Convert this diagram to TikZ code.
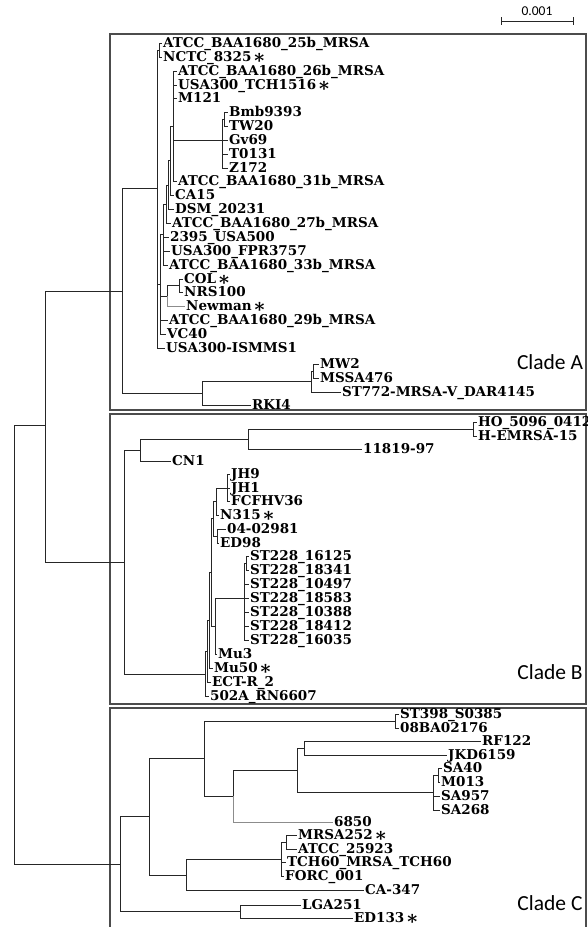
\documentclass[tikz,border=0pt]{standalone}
\usepackage{fontspec}
\setmainfont{DejaVu Serif}
\newfontfamily\cladefont{Carlito}
\newcommand\mk{\hspace{3pt}\raisebox{-5.5pt}{\fontsize{19}{19}\selectfont *}}

\begin{document}
\begin{tikzpicture}
        [x=1pt, y=-1pt,
         leaf/.style={anchor=west, inner xsep=1pt, inner ysep=0pt, text height=9.8pt, text depth=0pt,
                      font={\bfseries\fontsize{13.5}{14}\selectfont}},
         branch/.style={draw=black!85, line width=0.7pt},
         faint/.style={draw=black!45, line width=0.7pt},
         frame/.style={draw=black!70, line width=1.3pt},
         clade/.style={font={\cladefont\fontsize{21.5}{24}\selectfont}}]
        \useasboundingbox (0,0) rectangle (587,927);
        \draw[frame] (110,34) rectangle (586,410);
        \draw[frame] (110,414) rectangle (586,704);
        \draw[frame] (110,940) -- (110,708) -- (586,708) -- (586,940);
        \node[font={\cladefont\fontsize{13.5}{14}\selectfont}, inner sep=0pt] (scale) at (537,11) {0.001};
        \draw[branch] (501,17) -- (501,25) (501,21) -- (573,21) (573,17) -- (573,25);
        \node[clade] (cladeA) at (550,362) {Clade A};
        \node[clade] (cladeB) at (550,672) {Clade B};
        \node[clade] (cladeC) at (550,903) {Clade C};

        \coordinate (root) at (14,644);
        \coordinate (nAB) at (45,425);
        \coordinate (nC) at (120,864);
        \coordinate (nA) at (122,291);
        \coordinate (nB) at (124,562);
        \draw[branch] (root) |- (nAB) (root) |- (nC) (nAB) |- (nA) (nAB) |- (nB);

        \coordinate (aMain) at (157,188);
        \coordinate (aLow) at (202,393);
        \draw[branch] (nA) |- (aMain) (nA) |- (aLow);
        \coordinate (aTop) at (159,50);
        \coordinate (a5) at (160,284);
        \node[leaf] (ismms) at (165,348) {USA300-ISMMS1};
        \draw[branch] (aMain) |- (aTop) (aMain) |- (a5) (aMain) |- (ismms);
        \node[leaf] (b25) at (162,43) {ATCC\_BAA1680\_25b\_MRSA};
        \node[leaf] (nctc) at (162,57) {NCTC\_8325\mk};
        \draw[branch] (aTop) |- (b25) (aTop) |- (nctc);
        \coordinate (a4) at (163,234);
        \coordinate (gCol) at (167,296);
        \node[leaf] (b29) at (168,320) {ATCC\_BAA1680\_29b\_MRSA};
        \node[leaf] (vc40) at (166,334) {VC40};
        \draw[branch] (a5) |- (a4) (a5) |- (gCol) (a5) |- (b29) (a5) |- (vc40);
        \coordinate (pCol) at (179,285.5);
        \node[leaf] (newman) at (185,306) {Newman\mk};
        \draw[branch] (gCol) |- (pCol);
        \draw[faint] (gCol) |- (newman);
        \node[leaf] (col) at (183,279) {COL\mk};
        \node[leaf] (nrs) at (183,292) {NRS100};
        \draw[branch] (pCol) |- (col) (pCol) |- (nrs);
        \coordinate (a3) at (166,204);
        \node[leaf] (usa500) at (169,237) {2395\_USA500};
        \node[leaf] (fpr) at (170,251) {USA300\_FPR3757};
        \node[leaf] (b33) at (168,265) {ATCC\_BAA1680\_33b\_MRSA};
        \draw[branch] (a4) |- (a3) (a4) |- (usa500) (a4) |- (fpr) (a4) |- (b33);
        \coordinate (a2) at (168,185);
        \node[leaf] (b27) at (171,223) {ATCC\_BAA1680\_27b\_MRSA};
        \draw[branch] (a3) |- (a2) (a3) |- (b27);
        \coordinate (a1) at (170,160);
        \node[leaf] (dsm) at (174,209) {DSM\_20231};
        \draw[branch] (a2) |- (a1) (a2) |- (dsm);
        \coordinate (gUp) at (173,126);
        \node[leaf] (ca15) at (174,195) {CA15};
        \draw[branch] (a1) |- (gUp) (a1) |- (ca15);
        \node[leaf] (b26) at (177,71) {ATCC\_BAA1680\_26b\_MRSA};
        \node[leaf] (tch) at (177,85) {USA300\_TCH1516\mk};
        \node[leaf] (m121) at (177,98) {M121};
        \coordinate (gBmb) at (222,140);
        \node[leaf] (b31) at (177,181) {ATCC\_BAA1680\_31b\_MRSA};
        \draw[branch] (gUp) |- (b26) (gUp) |- (tch) (gUp) |- (m121) (gUp) |- (gBmb) (gUp) |- (b31);
        \coordinate (pBmb) at (224.5,119);
        \node[leaf] (gv69) at (228,140) {Gv69};
        \node[leaf] (t0131) at (228,154) {T0131};
        \node[leaf] (z172) at (228,168) {Z172};
        \draw[branch] (gBmb) |- (pBmb) (gBmb) |- (gv69) (gBmb) |- (t0131) (gBmb) |- (z172);
        \node[leaf] (bmb) at (228,112) {Bmb9393};
        \node[leaf] (tw20) at (228,126) {TW20};
        \draw[branch] (pBmb) |- (bmb) (pBmb) |- (tw20);

        \coordinate (gMW) at (311,381);
        \node[leaf] (rki4) at (251,405) {RKI4};
        \draw[branch] (aLow) |- (gMW) (aLow) |- (rki4);
        \coordinate (pMW) at (313,371);
        \node[leaf] (st772) at (341,392) {ST772-MRSA-V\_DAR4145};
        \draw[branch] (gMW) |- (pMW) (gMW) |- (st772);
        \node[leaf] (mw2) at (319,364) {MW2};
        \node[leaf] (mssa) at (319,378) {MSSA476};
        \draw[branch] (pMW) |- (mw2) (pMW) |- (mssa);

        \coordinate (gB1) at (140,450);
        \coordinate (gB2) at (205,674);
        \draw[branch] (nB) |- (gB1) (nB) |- (gB2);
        \coordinate (gHO) at (248,439);
        \node[leaf] (cn1) at (171,461) {CN1};
        \draw[branch] (gB1) |- (gHO) (gB1) |- (cn1);
        \coordinate (pHO) at (473,429);
        \node[leaf] (b11819) at (362,449) {11819-97};
        \draw[branch] (gHO) |- (pHO) (gHO) |- (b11819);
        \node[leaf] (ho) at (477,422) {HO\_5096\_0412};
        \node[leaf] (hemrsa) at (477,436) {H-EMRSA-15};
        \draw[branch] (pHO) |- (ho) (pHO) |- (hemrsa);

        \coordinate (bM3) at (207,651);
        \node[leaf] (rn6607) at (209,696) {502A\_RN6607};
        \draw[branch] (gB2) |- (bM3) (gB2) |- (rn6607);
        \coordinate (bM2) at (209,620);
        \node[leaf] (ectr) at (211,682) {ECT-R\_2};
        \draw[branch] (bM3) |- (bM2) (bM3) |- (ectr);
        \coordinate (bM) at (211,572);
        \node[leaf] (mu50) at (213,668) {Mu50\mk};
        \draw[branch] (bM2) |- (bM) (bM2) |- (mu50);
        \coordinate (bU) at (213,518);
        \coordinate (bS) at (215,626);
        \draw[branch] (bM) |- (bU) (bM) |- (bS);
        \coordinate (bN) at (216,501);
        \coordinate (pQ) at (217,536);
        \draw[branch] (bU) |- (bN) (bU) |- (pQ);
        \coordinate (tJH) at (227,488);
        \node[leaf] (n315) at (219,515) {N315\mk};
        \draw[branch] (bN) |- (tJH) (bN) |- (n315);
        \node[leaf] (jh9) at (230,474) {JH9};
        \node[leaf] (jh1) at (230,488) {JH1};
        \node[leaf] (fcf) at (230,501) {FCFHV36};
        \draw[branch] (tJH) |- (jh9) (tJH) |- (jh1) (tJH) |- (fcf);
        \node[leaf] (b0402) at (226,529) {04-02981};
        \node[leaf] (ed98) at (219,543) {ED98};
        \draw[branch] (pQ) |- (b0402) (pQ) |- (ed98);
        \coordinate (gST) at (244,598);
        \node[leaf] (mu3) at (217,654) {Mu3};
        \draw[branch] (bS) |- (gST) (bS) |- (mu3);
        \coordinate (pST) at (246,563);
        \node[leaf] (st10497) at (249,584) {ST228\_10497};
        \node[leaf] (st18583) at (249,598) {ST228\_18583};
        \node[leaf] (st10388) at (249,612) {ST228\_10388};
        \node[leaf] (st18412) at (249,626) {ST228\_18412};
        \node[leaf] (st16035) at (249,640) {ST228\_16035};
        \draw[branch] (gST) |- (pST) (gST) |- (st10497) (gST) |- (st18583) (gST) |- (st10388)
              (gST) |- (st18412) (gST) |- (st16035);
        \node[leaf] (st16125) at (249,556) {ST228\_16125};
        \node[leaf] (st18341) at (249,570) {ST228\_18341};
        \draw[branch] (pST) |- (st16125) (pST) |- (st18341);

        \coordinate (c1) at (149,816);
        \coordinate (pLGA) at (240,911.5);
        \draw[branch] (nC) |- (c1) (nC) |- (pLGA);
        \node[leaf] (lga) at (301,905) {LGA251};
        \node[leaf] (ed133) at (353,918) {ED133\mk};
        \draw[branch] (pLGA) |- (lga) (pLGA) |- (ed133);
        \coordinate (c204) at (204,758);
        \coordinate (c186) at (186,875);
        \draw[branch] (c1) |- (c204) (c1) |- (c186);
        \coordinate (pST398) at (395,721);
        \coordinate (c233) at (233,796);
        \draw[branch] (c204) |- (pST398) (c204) |- (c233);
        \node[leaf] (st398) at (399,714) {ST398\_S0385};
        \node[leaf] (ba02) at (399,728) {08BA02176};
        \draw[branch] (pST398) |- (st398) (pST398) |- (ba02);
        \coordinate (c297) at (297,770);
        \node[leaf] (b6850) at (333,822) {6850};
        \draw[branch] (c233) |- (c297);
        \draw[faint] (c233) |- (b6850);
        \coordinate (pRF) at (304,748);
        \coordinate (gSA) at (433,792);
        \draw[branch] (c297) |- (pRF) (c297) |- (gSA);
        \node[leaf] (rf122) at (481,741) {RF122};
        \node[leaf] (jkd) at (447,755) {JKD6159};
        \draw[branch] (pRF) |- (rf122) (pRF) |- (jkd);
        \coordinate (pSA) at (438,775);
        \node[leaf] (sa957) at (440,796) {SA957};
        \node[leaf] (sa268) at (440,810) {SA268};
        \draw[branch] (gSA) |- (pSA) (gSA) |- (sa957) (gSA) |- (sa268);
        \node[leaf] (sa40) at (442,768) {SA40};
        \node[leaf] (m013) at (440,782) {M013};
        \draw[branch] (pSA) |- (sa40) (pSA) |- (m013);
        \coordinate (c281) at (281,859);
        \node[leaf] (ca347) at (364,890) {CA-347};
        \draw[branch] (c186) |- (c281) (c186) |- (ca347);
        \coordinate (pMR) at (286.5,842);
        \node[leaf] (tch60) at (286,862) {TCH60\_MRSA\_TCH60};
        \node[leaf] (forc) at (284,876) {FORC\_001};
        \draw[branch] (c281) |- (pMR) (c281) |- (tch60) (c281) |- (forc);
        \node[leaf] (mrsa252) at (297,835) {MRSA252\mk};
        \node[leaf] (atcc) at (297,849) {ATCC\_25923};
        \draw[branch] (pMR) |- (mrsa252) (pMR) |- (atcc);
\end{tikzpicture}
\end{document}
